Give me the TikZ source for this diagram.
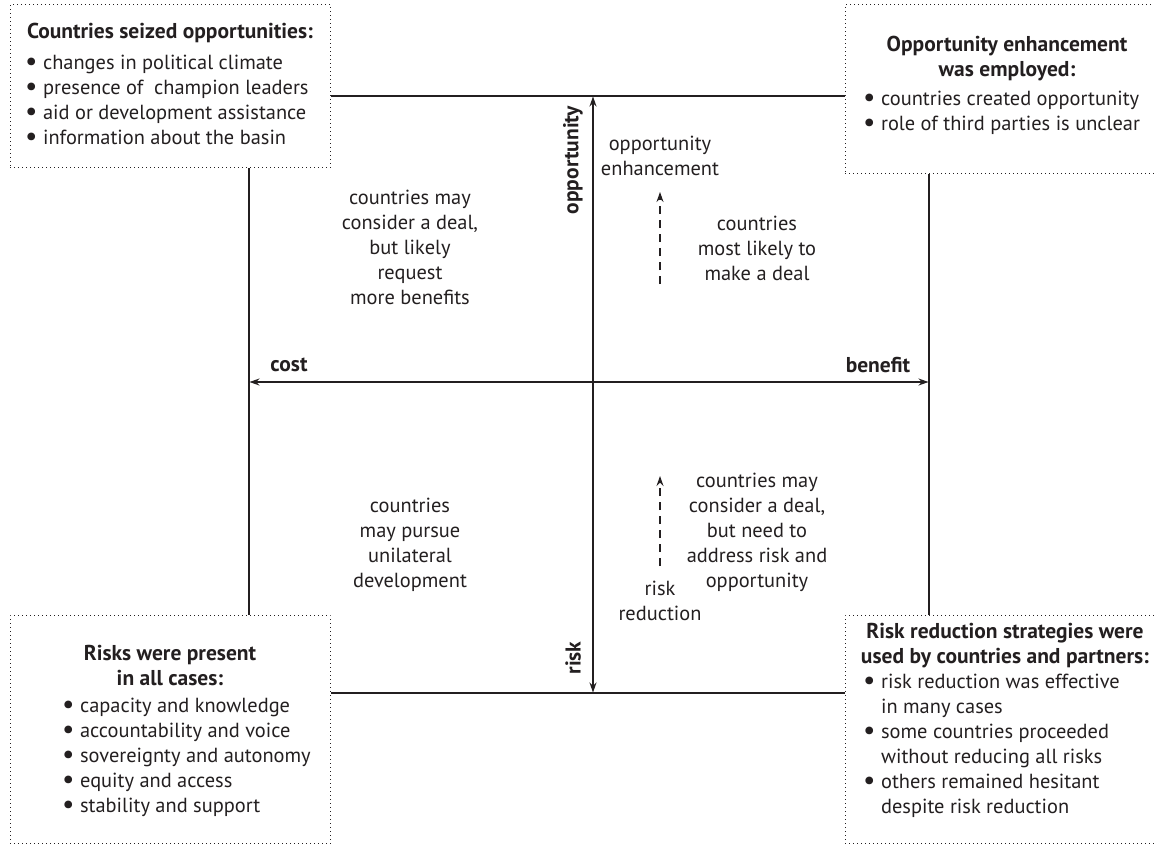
\documentclass[tikz,border=0pt]{standalone}
\usepackage{fontspec}
\usepackage{graphicx}
\setmainfont{PT Sans}
\usetikzlibrary{arrows.meta}
\definecolor{ink}{HTML}{231F20}
\newcommand{\bul}{\raisebox{-0.06em}{\scalebox{1.35}{•}}}
\newcommand{\cont}{\hphantom{\bul\ }}
\begin{document}
\begin{tikzpicture}[x=1pt,y=-1pt,
  every node/.style={inner sep=0pt, text=ink, font=\fontsize{20.4}{25}\selectfont},
  bold/.style={font=\fontsize{21.5}{25}\selectfont\bfseries},
  box/.style={draw=ink, line width=0.9pt, dash pattern=on 0.9pt off 3.1pt, rectangle, inner sep=0pt, anchor=north west},
  frame/.style={draw=ink, line width=1.2pt},
  axis/.style={draw=ink, line width=1.2pt, {Stealth[length=10pt,width=7pt]}-{Stealth[length=10pt,width=7pt]}},
  dashedarrow/.style={draw=ink, line width=1.1pt, dash pattern=on 8pt off 6pt, -{Stealth[length=10pt,width=7pt]}},
]
\useasboundingbox (0,0) rectangle (1154,844);
\clip (0,0) rectangle (1154,844);

% boxes
\node[box, minimum width=320pt, minimum height=163pt] (tl) at (10,4) {};
\node[box, minimum width=320pt, minimum height=169pt] (tr) at (845,4) {};
\node[box, minimum width=320pt, minimum height=228pt] (bl) at (10,615) {};
\node[box, minimum width=320pt, minimum height=228pt] (br) at (845,615) {};

% frame coordinates
\coordinate (ytop) at (0,96);
\coordinate (ybot) at (0,693);
\coordinate (xl) at (249,0);
\coordinate (xr) at (929,0);
\draw[frame] (tl.east |- ytop) -- (tr.west |- ytop);
\draw[frame] (bl.east |- ybot) -- (br.west |- ybot);
\draw[frame] (tl.south -| xl) -- (bl.north -| xl);
\draw[frame] (tr.south -| xr) -- (br.north -| xr);

% axes
\coordinate (vtop) at (593,96.5);
\coordinate (vbot) at (593,692.5);
\coordinate (hl) at (249.5,382);
\coordinate (hr) at (928.5,382);
\draw[axis] (vtop) -- (vbot);
\draw[axis] (hl) -- (hr);

% dashed arrows
\coordinate (d1s) at (660,284);
\coordinate (d1e) at (660,192);
\coordinate (d2s) at (660,566);
\coordinate (d2e) at (660,476);
\draw[dashedarrow] (d1s) -- (d1e);
\draw[dashedarrow] (d2s) -- (d2e);

% box texts
\node[bold] (tlh) at (170,33) {Countries seized opportunities:};
\node[anchor=west, align=left] (tlb) at (25,100.5) {\bul\ changes in political climate\\\bul\ presence of\ \ champion leaders\\\bul\ aid or development assistance\\\bul\ information about the basin};

\node[bold, align=center] (trh) at (1007,58.5) {Opportunity enhancement\\was employed:};
\node[anchor=west, align=left] (trb) at (863,112.5) {\bul\ countries created opportunity\\\bul\ role of third parties is unclear};

\node[bold, align=center] (blh) at (170,665) {Risks were present\\in all cases:};
\node[anchor=west, align=left] (blb) at (62,757) {\bul\ capacity and knowledge\\\bul\ accountability and voice\\\bul\ sovereignty and autonomy\\\bul\ equity and access\\\bul\ stability and support};

\node[bold, align=center] (brh) at (1005,645.5) {Risk reduction strategies were\\used by countries and partners:};
\node[anchor=west, align=left] (brb) at (863,745.5) {\bul\ risk reduction was effective\\\cont in many cases\\\bul\ some countries proceeded\\\cont without reducing all risks\\\bul\ others remained hesitant\\\cont despite risk reduction};

% middle texts
\node[align=center] (m1) at (410,247.5) {countries may\\consider a deal,\\but likely\\request\\more benefits};
\node[align=center] (m2) at (757,248) {countries\\most likely to\\make a deal};
\node[align=center] (oe) at (660,155.5) {opportunity\\enhancement};
\node[align=center] (m3) at (757,532.5) {countries may\\consider a deal,\\but need to\\address risk and\\opportunity};
\node[align=center] (m4) at (410,545) {countries\\may pursue\\unilateral\\development};
\node[align=center] (rr) at (660,600.5) {risk\\reduction};

% axis labels
\node[bold] (cost) at (289,365) {cost};
\node[bold] (ben) at (878,365) {benefit};
\node[bold, rotate=90] (opp) at (573,160) {opportunity};
\node[bold, rotate=90] (risk) at (573,658) {risk};
\end{tikzpicture}
\end{document}
